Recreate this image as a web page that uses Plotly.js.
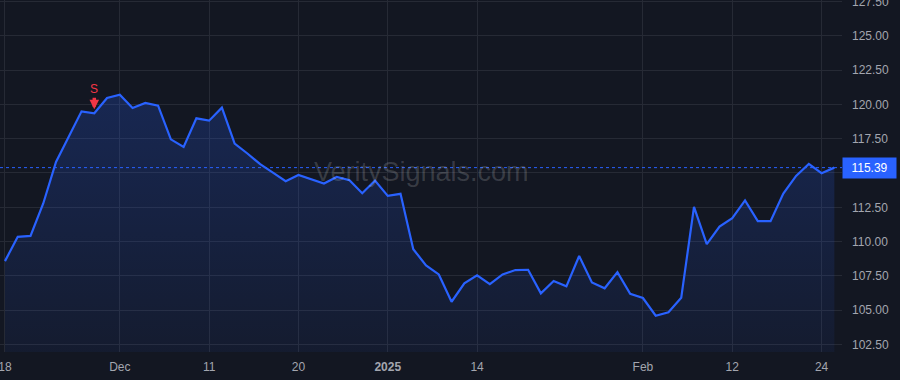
<!DOCTYPE html>
<html>
<head>
<meta charset="utf-8">
<script src="https://cdn.plot.ly/plotly-3.0.1.min.js"></script>
<style>
html,body{margin:0;padding:0;background:#131722;}
#chart{width:900px;height:380px;}
</style>
</head>
<body>
<div id="chart"></div>
<script>
// Trading days (Nov 18, 2024 - Feb 25, 2025)
const dates = [
  "2024-11-18","2024-11-19","2024-11-20","2024-11-21","2024-11-22","2024-11-25","2024-11-26","2024-11-27","2024-11-29",
  "2024-12-02","2024-12-03","2024-12-04","2024-12-05","2024-12-06","2024-12-09","2024-12-10","2024-12-11","2024-12-12",
  "2024-12-13","2024-12-16","2024-12-17","2024-12-18","2024-12-19","2024-12-20","2024-12-23","2024-12-24","2024-12-26",
  "2024-12-27","2024-12-30","2024-12-31","2025-01-02","2025-01-03","2025-01-06","2025-01-07","2025-01-08","2025-01-10",
  "2025-01-13","2025-01-14","2025-01-15","2025-01-16","2025-01-17","2025-01-21","2025-01-22","2025-01-23","2025-01-24",
  "2025-01-27","2025-01-28","2025-01-29","2025-01-30","2025-01-31","2025-02-03","2025-02-04","2025-02-05","2025-02-06",
  "2025-02-07","2025-02-10","2025-02-11","2025-02-12","2025-02-13","2025-02-14","2025-02-18","2025-02-19","2025-02-20",
  "2025-02-21","2025-02-24","2025-02-25"
];
const prices = [
  108.58,110.35,110.42,112.78,115.80,117.67,119.49,119.35,120.46,
  120.70,119.73,120.10,119.90,117.45,116.90,118.98,118.81,119.76,
  117.14,116.42,115.64,115.03,114.40,114.86,114.55,114.23,114.71,
  114.47,113.53,114.45,113.33,113.48,109.45,108.27,107.61,105.62,
  106.96,107.54,106.91,107.61,107.93,107.95,106.23,107.13,106.74,
  108.95,107.03,106.60,107.78,106.20,105.89,104.60,104.85,105.91,
  112.53,109.82,111.10,111.71,113.00,111.49,111.49,113.50,114.79,
  115.66,114.98,115.39
];
const xTickDates = ["2024-11-18","2024-12-02","2024-12-11","2024-12-20","2025-01-02","2025-01-14","2025-02-03","2025-02-12","2025-02-24"];
const xTickLabels = ["18","Dec","11","20","<b>2025</b>","14","Feb","12","24"];
const yTickVals = [102.5,105,107.5,110,112.5,115,117.5,120,122.5,125,127.5];
const signalDate = "2024-11-27";
const signalPrice = 119.35;
const signalLabel = "S";
const lastPrice = 115.39;
const watermark = "VeritySignals.com";

const trace = {
  x: dates, y: prices, type: "scatter", mode: "lines",
  line: {color: "#2962ff", width: 2.2},
  fill: "tozeroy",
  fillgradient: {
    type: "vertical",
    start: 101.9, stop: 121,
    colorscale: [[0, "rgba(41,98,255,0.06)"], [1, "rgba(41,98,255,0.22)"]]
  },
  hoverinfo: "skip"
};

const layout = {
  width: 900, height: 380,
  paper_bgcolor: "#131722", plot_bgcolor: "#131722",
  margin: {l: 0, r: 58, t: 0, b: 28},
  showlegend: false,
  font: {family: "Liberation Sans, Arial, sans-serif", size: 12, color: "#a3a6af"},
  xaxis: {
    type: "category",
    range: [-0.39, 65.6],
    tickmode: "array", tickvals: xTickDates, ticktext: xTickLabels,
    showgrid: true, gridcolor: "#262a35", gridwidth: 1,
    zeroline: false, showline: false, ticks: "",
    ticklabelstandoff: 6,
    ticklabeloverflow: "allow",
    tickfont: {size: 12, color: "#a3a6af"}
  },
  yaxis: {
    side: "right",
    range: [101.96, 127.6],
    tickmode: "array", tickvals: yTickVals,
    tickformat: ".2f",
    showgrid: true, gridcolor: "#262a35", gridwidth: 1,
    zeroline: false, showline: false, ticks: "",
    ticklabelstandoff: 9,
    ticklabeloverflow: "allow",
    tickfont: {size: 12, color: "#a3a6af"}
  },
  shapes: [{
    type: "line", xref: "paper", x0: 0, x1: 1, yref: "y", y0: lastPrice, y1: lastPrice,
    line: {color: "#2962ff", width: 1, dash: "dot"}
  }],
  annotations: [
    {
      text: watermark, xref: "paper", yref: "paper", x: 0.5, y: 0.511,
      showarrow: false, font: {size: 27, color: "rgba(255,255,255,0.16)", family: "Liberation Sans, Arial, sans-serif"}
    },
    {
      x: signalDate, y: signalPrice, xref: "x", yref: "y",
      text: signalLabel, showarrow: true, ax: 0, ay: -24,
      arrowcolor: "#f23645", arrowwidth: 3.5, arrowhead: 2, arrowsize: 0.55, standoff: 4,
      font: {size: 12, color: "#f23645"}
    },
    {
      x: 1, xref: "paper", xanchor: "left", y: lastPrice, yref: "y", yanchor: "middle",
      text: lastPrice.toFixed(2), showarrow: false,
      bgcolor: "#2962ff", borderpad: 3, width: 47, align: "center",
      font: {size: 12, color: "#ffffff"}
    }
  ]
};

Plotly.newPlot("chart", [trace], layout, {displayModeBar: false, staticPlot: true});
</script>
</body>
</html>
